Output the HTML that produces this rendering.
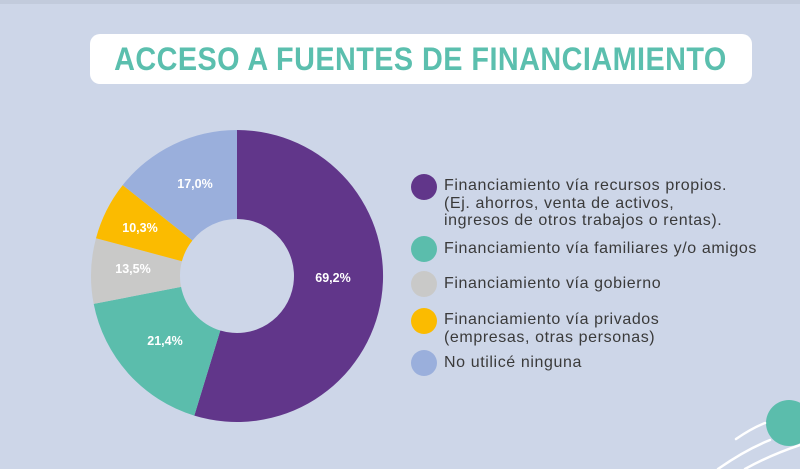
<!DOCTYPE html>
<html><head><meta charset="utf-8"><style>
html,body{margin:0;padding:0}
body{width:800px;height:469px;background:#cdd6e8;position:relative;overflow:hidden;font-family:"Liberation Sans",Arial,sans-serif}
.topbar{position:absolute;left:0;top:0;width:800px;height:4px;background:#c2cbdc}
.title{position:absolute;left:90px;top:34px;width:662px;height:50px;background:#fff;border-radius:10px}
.title span{position:absolute;left:-9px;width:662px;top:7px;text-align:center;font-weight:bold;font-size:32px;color:#5bbfae;letter-spacing:0.5px;transform:scaleX(0.9);transform-origin:center;white-space:nowrap}
.leg{position:absolute;left:444px;font-size:16px;letter-spacing:0.6px;line-height:17.5px;color:#3a3a3a;white-space:nowrap}
.dot{position:absolute;left:411px;width:26px;height:26px;border-radius:50%}
</style></head><body>
<div class="topbar"></div>
<div class="title"><span>ACCESO A FUENTES DE FINANCIAMIENTO</span></div>
<svg width="800" height="469" style="position:absolute;left:0;top:0">
<path d="M237,130 A146,146 0 1 1 194.3,415.6 L220.3,330.5 A57,57 0 1 0 237,219 Z" fill="#61368a"/>
<path d="M194.3,415.6 A146,146 0 0 1 93.7,303.9 L181.05,286.9 A57,57 0 0 0 220.3,330.5 Z" fill="#5bbdac"/>
<path d="M93.7,303.9 A146,146 0 0 1 96,238.2 L181.9,261.25 A57,57 0 0 0 181.05,286.9 Z" fill="#c9c9c8"/>
<path d="M96,238.2 A146,146 0 0 1 122.7,185.1 L192.4,240.5 A57,57 0 0 0 181.9,261.25 Z" fill="#fbbb00"/>
<path d="M122.7,185.1 A146,146 0 0 1 237,130 L237,219 A57,57 0 0 0 192.4,240.5 Z" fill="#9aafdc"/>
<g fill="#fff" font-weight="bold" font-size="12.5" text-anchor="middle" font-family="Liberation Sans,Arial,sans-serif">
<text x="333" y="282">69,2%</text>
<text x="165" y="345">21,4%</text>
<text x="133" y="273">13,5%</text>
<text x="140" y="232">10,3%</text>
<text x="195" y="188">17,0%</text>
</g>
<circle cx="789" cy="423" r="23" fill="#5bbdac"/>
<g stroke="#fff" stroke-width="2.5" fill="none" stroke-linecap="round">
<path d="M736,439 Q752,428 765,423"/>
<path d="M718,469 Q745,450 770,440"/>
<path d="M745,469 Q770,455 800,445"/>
</g>
</svg>
<div class="dot" style="top:174px;background:#61368a"></div>
<div class="dot" style="top:236px;background:#5bbdac"></div>
<div class="dot" style="top:271px;background:#c9c9c8"></div>
<div class="dot" style="top:308px;background:#fbbb00"></div>
<div class="dot" style="top:350px;background:#9aafdc"></div>
<div class="leg" style="top:177px">Financiamiento vía recursos propios.<br>(Ej. ahorros, venta de activos,<br>ingresos de otros trabajos o rentas).</div>
<div class="leg" style="top:240px">Financiamiento vía familiares y/o amigos</div>
<div class="leg" style="top:275px">Financiamiento vía gobierno</div>
<div class="leg" style="top:311px">Financiamiento vía privados<br>(empresas, otras personas)</div>
<div class="leg" style="top:354px">No utilicé ninguna</div>
</body></html>
